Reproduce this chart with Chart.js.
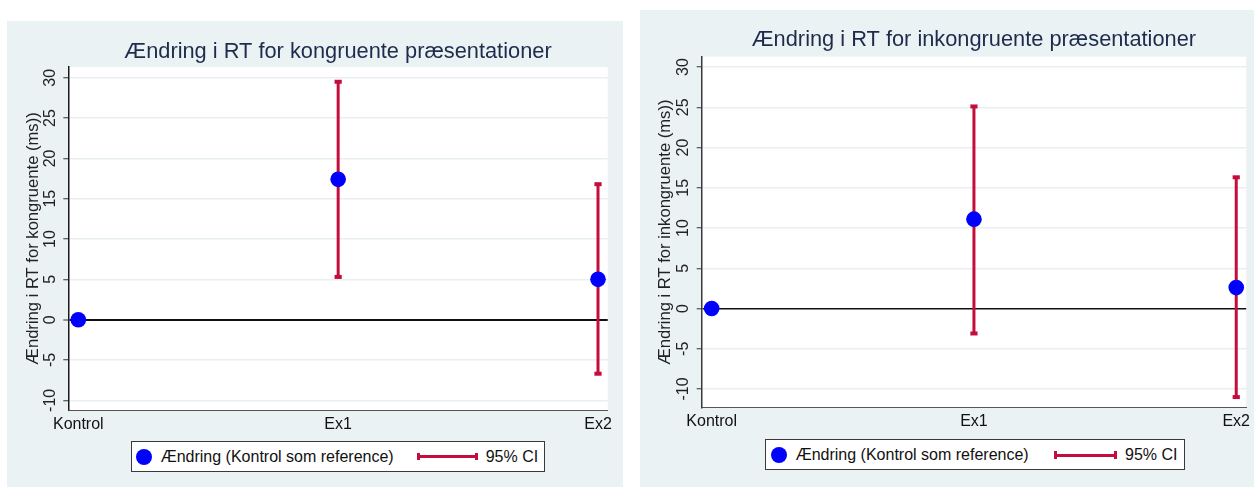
<!DOCTYPE html>
<html>
<head>
<meta charset="utf-8">
<script src="https://cdn.jsdelivr.net/npm/chart.js@4.4.1/dist/chart.umd.min.js"></script>
<style>
  body { margin: 0; background: #ffffff; width: 1254px; height: 487px; overflow: hidden; position: relative;
         font-family: 'Liberation Sans', Arial, sans-serif; }
  .panel { position: absolute; background: #eaf2f3; }
  .panel canvas { position: absolute; left: 0; top: 0; }
  .legend { position: absolute; box-sizing: border-box; background: #ffffff; border: 1px solid #3a3a3a;
            font-size: 16px; color: #111111; }
  .legend .dot { position: absolute; width: 16px; height: 16px; border-radius: 50%; background: #0000ff; }
  .legend .txt { position: absolute; top: 0; line-height: 29px; white-space: nowrap; }
  .legend .ci { position: absolute; height: 3px; background: #c40d3c; }
  .legend .ci:before, .legend .ci:after { content: ''; position: absolute; top: -2.3px; width: 3px; height: 7.6px; background: #c40d3c; }
  .legend .ci:before { left: 0; }
  .legend .ci:after { right: 0; }
</style>
</head>
<body>
<div class="panel" id="panelKong" style="left:7px;top:21px;width:616px;height:466px;">
  <canvas id="chartKong" width="616" height="466"></canvas>
  <div class="legend" id="legendKong" style="left:123.7px;top:419.7px;width:414.3px;height:31px;"></div>
</div>
<div class="panel" id="panelInkong" style="left:640px;top:10px;width:614px;height:477px;">
  <canvas id="chartInkong" width="614" height="477"></canvas>
  <div class="legend" id="legendInkong" style="left:125px;top:429px;width:420px;height:31px;"></div>
</div>

<script>
// Groups on the x axis
const categories = ['Kontrol', 'Ex1', 'Ex2'];
// Y axis tick values (ms)
const yTickValues = [-10, -5, 0, 5, 10, 15, 20, 25, 30];

// Congruent presentations: change vs. Kontrol with 95% CI
const kongEstimate = [0, 17.4, 5.0];
const kongLower = [null, 5.3, -6.7];
const kongUpper = [null, 29.5, 16.8];

// Incongruent presentations: change vs. Kontrol with 95% CI
const inkongEstimate = [0, 11.1, 2.6];
const inkongLower = [null, -3.1, -11.0];
const inkongUpper = [null, 25.1, 16.3];

const estimateLabel = 'Ændring (Kontrol som reference)';
const ciLabel = '95% CI';

const FONT = "'Liberation Sans', Arial, sans-serif";
const CI_RED = '#c40d3c';
const MARKER_BLUE = '#0000ff';

// White plot region on the tinted panel
const plotBackground = {
  id: 'plotBackground',
  beforeDraw(chart) {
    const { ctx, chartArea: a } = chart;
    ctx.save();
    ctx.fillStyle = '#ffffff';
    ctx.fillRect(a.left, a.top, a.right - a.left, a.bottom - a.top);
    ctx.restore();
  }
};

function buildLegend(el, g) {
  el.innerHTML =
    '<div class="dot" style="left:' + g.dotLeft + 'px;top:' + g.dotTop + 'px;"></div>' +
    '<div class="txt" style="left:' + g.textLeft + 'px;"></div>' +
    '<div class="ci" style="left:' + g.ciLeft + 'px;top:' + g.ciTop + 'px;width:' + g.ciWidth + 'px;"></div>' +
    '<div class="txt" style="left:' + g.ciTextLeft + 'px;"></div>';
  const txts = el.querySelectorAll('.txt');
  txts[0].textContent = estimateLabel;
  txts[1].textContent = ciLabel;
}

function drawPanel(canvasId, p) {
  const datasets = [{
    label: estimateLabel,
    data: categories.map((c, i) => ({ x: i, y: p.estimate[i] })),
    showLine: false,
    pointRadius: 7.8,
    pointHoverRadius: 7.8,
    pointBackgroundColor: MARKER_BLUE,
    pointBorderWidth: 0,
    clip: false,
    order: 0
  }];
  categories.forEach((c, i) => {
    if (p.lower[i] == null) return;
    datasets.push({
      label: ciLabel,
      data: [{ x: i, y: p.lower[i] }, { x: i, y: p.upper[i] }],
      showLine: true,
      borderColor: CI_RED,
      borderWidth: 3,
      pointStyle: 'line',
      pointRadius: 3.6,
      pointHoverRadius: 3.6,
      pointBorderWidth: 4,
      pointBorderColor: CI_RED,
      pointBackgroundColor: CI_RED,
      clip: false,
      order: 1
    });
  });

  return new Chart(document.getElementById(canvasId), {
    type: 'scatter',
    data: { datasets },
    options: {
      responsive: false,
      animation: false,
      events: [],
      layout: { padding: { left: 0, right: p.padRight, top: 0, bottom: 0 } },
      plugins: {
        legend: { display: false },
        tooltip: { enabled: false },
        title: {
          display: true,
          text: p.title,
          fullSize: false,
          color: '#1d2b4d',
          font: { family: FONT, size: 21.8, weight: 'normal' },
          padding: { top: p.titlePadTop, bottom: p.titlePadBottom }
        }
      },
      scales: {
        x: {
          type: 'linear',
          min: p.xMin,
          max: p.xMax,
          afterBuildTicks: s => { s.ticks = categories.map((c, i) => ({ value: i })); },
          afterFit: s => { s.height = p.xAxisHeight; s.paddingLeft = 0; s.paddingRight = 0; },
          ticks: {
            callback: v => categories[Math.round(v)],
            color: '#111111',
            font: { family: FONT, size: 16 },
            padding: 4.5,
            minRotation: 0,
            maxRotation: 0,
            autoSkip: false
          },
          grid: { display: true, drawOnChartArea: false, drawTicks: false },
          border: { color: '#555555', width: 1 }
        },
        y: {
          type: 'linear',
          min: p.yMin,
          max: p.yMax,
          afterBuildTicks: s => { s.ticks = yTickValues.map(v => ({ value: v })); },
          afterFit: s => { s.width = p.yAxisWidth; s.paddingTop = 0; s.paddingBottom = 0; },
          ticks: {
            minRotation: 90,
            maxRotation: 90,
            crossAlign: 'center',
            padding: 1.5,
            color: '#222222',
            font: { family: FONT, size: 16 }
          },
          grid: {
            color: ctx => (ctx.tick && ctx.tick.value === 0) ? '#111111' : '#e8eff1',
            lineWidth: ctx => (ctx.tick && ctx.tick.value === 0) ? p.zeroWidth : 1.5,
            tickColor: '#333333',
            tickLength: 5,
            tickWidth: 1
          },
          border: { color: p.yAxisColor, width: 1.5 },
          title: {
            display: true,
            text: p.axisTitle,
            color: '#222222',
            font: { family: FONT, size: 16.6 },
            padding: { top: p.axisTitlePad, bottom: 0 }
          }
        }
      }
    },
    plugins: [plotBackground]
  });
}

drawPanel('chartKong', {
  title: 'Ændring i RT for kongruente præsentationer',
  axisTitle: 'Ændring i RT for kongruente (ms))',
  estimate: kongEstimate, lower: kongLower, upper: kongUpper,
  xMin: -0.0385, xMax: 2.0373, yMin: -11.2, yMax: 31.33,
  yAxisWidth: 61.3, xAxisHeight: 77, padRight: 15.3,
  titlePadTop: 17.8, titlePadBottom: 2.05, axisTitlePad: 16.4,
  zeroWidth: 2, yAxisColor: '#1a1a1a'
});

drawPanel('chartInkong', {
  title: 'Ændring i RT for inkongruente præsentationer',
  axisTitle: 'Ændring i RT for inkongruente (ms))',
  estimate: inkongEstimate, lower: inkongLower, upper: inkongUpper,
  xMin: -0.038, xMax: 2.038, yMin: -12.32, yMax: 31.28,
  yAxisWidth: 61.7, xAxisHeight: 79.3, padRight: 5.7,
  titlePadTop: 16.9, titlePadBottom: 3.64, axisTitlePad: 15.1,
  zeroWidth: 1.6, yAxisColor: '#3a3a3a'
});

buildLegend(document.getElementById('legendKong'),
  { dotLeft: 4.6, dotTop: 7.3, textLeft: 29, ciLeft: 285, ciTop: 13.5, ciWidth: 61.6, ciTextLeft: 354 });
buildLegend(document.getElementById('legendInkong'),
  { dotLeft: 5.3, dotTop: 7.2, textLeft: 29.7, ciLeft: 288, ciTop: 13.5, ciWidth: 63.3, ciTextLeft: 359 });
</script>
</body>
</html>
